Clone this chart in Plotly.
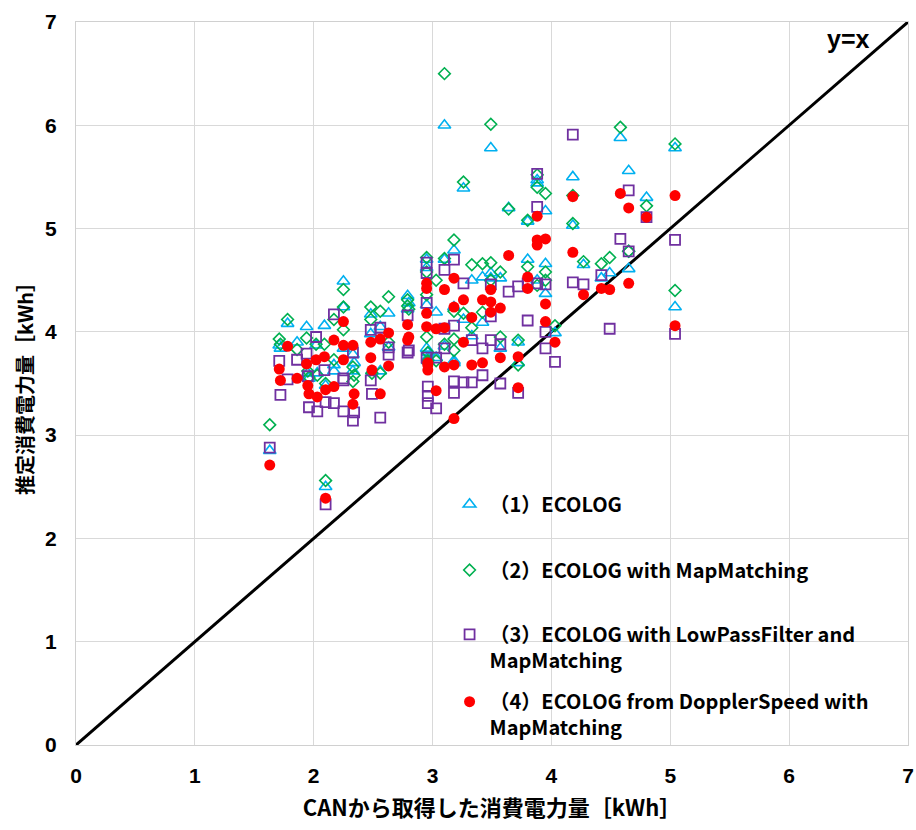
import plotly.graph_objects as go

# CAN-measured consumption (x) for each trip, shared by all four series
x_can = [1.63, 1.71, 1.72, 1.78, 1.86, 1.94, 1.95, 1.96, 2.02, 2.03,
         2.09, 2.10, 2.10, 2.17, 2.17, 2.25, 2.25, 2.25, 2.33, 2.33,
         2.34, 2.48, 2.48, 2.49, 2.56, 2.56, 2.63, 2.63, 2.79, 2.79,
         2.80, 2.95, 2.95, 2.95, 2.95, 2.96, 2.96, 2.96, 3.03, 3.03,
         3.10, 3.10, 3.10, 3.18, 3.18, 3.18, 3.18, 3.26, 3.26, 3.33,
         3.33, 3.42, 3.42, 3.49, 3.49, 3.49, 3.57, 3.57, 3.64, 3.72,
         3.72, 3.80, 3.80, 3.88, 3.88, 3.88, 3.95, 3.95, 3.95, 4.03,
         4.18, 4.18, 4.27, 4.42, 4.49, 4.58, 4.65, 4.65, 4.80, 5.04,
         5.04]

# (1) ECOLOG
y_ecolog = [2.85, 3.87, 3.84, 4.08, 3.90, 4.05, 3.60, 3.55, 3.87, 3.60,
            4.06, 2.50, 3.48, 3.68, 3.62, 4.49, 4.24, 3.84, 3.78, 3.62,
            3.70, 4.17, 3.98, 3.62, 4.05, 3.62, 4.18, 3.85, 4.35, 4.22,
            4.28, 4.70, 4.62, 4.26, 3.84, 3.80, 3.75, 3.72, 4.19, 3.75,
            6.00, 4.70, 3.86, 4.79, 4.24, 3.72, 3.70, 5.39, 4.12, 4.50,
            3.96, 4.53, 4.09, 5.78, 4.57, 4.52, 4.52, 3.84, 5.20, 3.90,
            3.70, 5.07, 4.70, 5.44, 5.47, 4.50, 5.17, 4.66, 4.37, 3.99,
            5.50, 5.03, 4.65, 4.52, 4.57, 5.88, 5.56, 4.61, 5.30, 5.78,
            4.24]

# (2) ECOLOG with MapMatching
y_mapmatch = [3.10, 3.93, 3.88, 4.12, 3.83, 3.94, 3.62, 3.56, 3.88, 3.58,
              3.88, 2.56, 3.50, 4.12, 3.73, 4.41, 4.24, 4.02, 3.66, 3.52,
              3.58, 4.24, 4.12, 3.60, 4.20, 3.60, 4.34, 3.90, 4.31, 4.25,
              4.22, 4.72, 4.58, 4.36, 3.95, 3.80, 3.70, 3.72, 4.50, 3.72,
              6.50, 4.71, 3.88, 4.89, 4.20, 3.93, 3.82, 5.45, 4.18, 4.65,
              4.04, 4.66, 4.19, 6.01, 4.67, 4.50, 4.58, 3.95, 5.19, 3.92,
              3.68, 5.08, 4.63, 5.52, 5.40, 4.45, 5.34, 4.58, 4.50, 4.06,
              5.32, 5.05, 4.68, 4.66, 4.72, 5.98, 4.78, 4.78, 5.22, 5.82,
              4.40]

# (3) ECOLOG with LowPassFilter and MapMatching
y_lowpass = [2.88, 3.72, 3.39, 3.54, 3.73, 3.79, 3.57, 3.27, 3.95, 3.23,
             3.63, 2.33, 3.32, 4.17, 3.31, 3.53, 3.23, 3.55, 3.80, 3.14,
             3.22, 4.02, 3.53, 3.40, 4.04, 3.17, 3.85, 3.78, 4.16, 3.80,
             3.82, 4.67, 4.57, 4.28, 3.75, 3.47, 3.31, 3.38, 3.75, 3.26,
             4.60, 4.03, 3.84, 4.70, 4.06, 3.52, 3.41, 4.47, 3.51, 3.92,
             3.51, 3.84, 3.58, 4.46, 4.15, 3.92, 3.88, 3.50, 4.39, 4.44,
             3.41, 4.11, 4.47, 5.53, 5.21, 4.47, 4.46, 4.00, 3.84, 3.71,
             5.91, 4.48, 4.46, 4.55, 4.03, 4.90, 5.37, 4.78, 5.11, 4.89,
             3.98]

# (4) ECOLOG from DopplerSpeed with MapMatching
y_doppler = [2.71, 3.64, 3.53, 3.86, 3.55, 3.69, 3.48, 3.40, 3.73, 3.37,
             3.76, 2.39, 3.44, 3.92, 3.47, 4.10, 3.87, 3.73, 3.87, 3.30,
             3.40, 3.90, 3.75, 3.63, 3.93, 3.40, 3.99, 3.67, 4.07, 3.92,
             3.95, 4.47, 4.42, 4.18, 4.05, 3.68, 3.63, 3.70, 4.03, 3.43,
             4.41, 4.04, 3.66, 4.52, 4.24, 3.68, 3.16, 4.31, 3.90, 4.14,
             3.68, 4.31, 3.70, 4.41, 4.29, 4.19, 4.23, 3.75, 4.74, 3.76,
             3.46, 4.53, 4.42, 5.12, 4.89, 4.84, 4.90, 4.27, 4.10, 3.90,
             5.31, 4.77, 4.36, 4.42, 4.41, 5.34, 5.20, 4.47, 5.11, 5.32,
             4.06]

names = ["（1）ECOLOG",
         "（2）ECOLOG with MapMatching",
         "（3）ECOLOG with LowPassFilter and<br>MapMatching",
         "（4）ECOLOG from DopplerSpeed with<br>MapMatching"]

diag = [0, 7]
axis_ticks = [0, 1, 2, 3, 4, 5, 6, 7]

fig = go.Figure()

fig.add_trace(go.Scatter(x=diag, y=diag, mode="lines",
                         line=dict(color="black", width=3),
                         showlegend=False, hoverinfo="skip"))

styles = [
    dict(symbol="triangle-up-open", color="#00B0F0", size=11, line=dict(width=1.6, color="#00B0F0")),
    dict(symbol="diamond-open", color="#00B050", size=9, line=dict(width=1.6, color="#00B050")),
    dict(symbol="square-open", color="#7030A0", size=10, line=dict(width=1.8, color="#7030A0")),
    dict(symbol="circle", color="#FF0000", size=11, line=dict(width=0)),
]
series = [y_ecolog, y_mapmatch, y_lowpass, y_doppler]
legends = ["legend", "legend2", "legend3", "legend4"]

for ys, nm, st, lg in zip(series, names, styles, legends):
    fig.add_trace(go.Scatter(x=x_can, y=ys, mode="markers", name=nm,
                             marker=st, legend=lg))

leg_font = dict(family="Noto Sans CJK JP", size=20, color="black", weight="bold")
common = dict(xref="paper", yref="paper", xanchor="left", yanchor="middle",
              bgcolor="rgba(0,0,0,0)", borderwidth=0, font=leg_font,
              valign="top", itemwidth=30)
lx = 0.449
fig.update_layout(
    legend=dict(x=lx, y=0.333, **common),
    legend2=dict(x=lx, y=0.242, **common),
    legend3=dict(x=lx, y=0.135, **common),
    legend4=dict(x=lx, y=0.042, **common),
)

tick_font = dict(family="Liberation Sans", size=21, color="black", weight="bold")

fig.update_xaxes(range=[0, 7], tickvals=axis_ticks, showgrid=True,
                 gridcolor="#D9D9D9", gridwidth=1, zeroline=False,
                 showline=True, mirror=True, linecolor="#D0D0D0", linewidth=1,
                 tickfont=tick_font, ticks="", ticklabelstandoff=12, automargin=False,
                 title=dict(text="CANから取得した消費電力量［kWh］",
                            font=dict(family="Noto Sans CJK JP", size=22, color="black", weight="bold"),
                            standoff=14))
fig.update_yaxes(range=[0, 7], tickvals=axis_ticks, showgrid=True,
                 gridcolor="#D9D9D9", gridwidth=1, zeroline=False,
                 showline=True, mirror=True, linecolor="#D0D0D0", linewidth=1,
                 tickfont=tick_font, ticks="", ticklabelstandoff=14, automargin=False,
                 title=dict(text="推定消費電力量［kWh］",
                            font=dict(family="Noto Sans CJK JP", size=20, color="black", weight="bold"),
                            standoff=6))

fig.add_annotation(x=6.5, y=6.84, xref="x", yref="y", text="y=x", showarrow=False,
                   font=dict(family="Liberation Sans", size=25, color="black", weight="bold"))

fig.update_layout(width=916, height=830, margin=dict(l=76, r=8, t=22, b=85),
                  plot_bgcolor="white", paper_bgcolor="white")

fig.write_html("out.html")
